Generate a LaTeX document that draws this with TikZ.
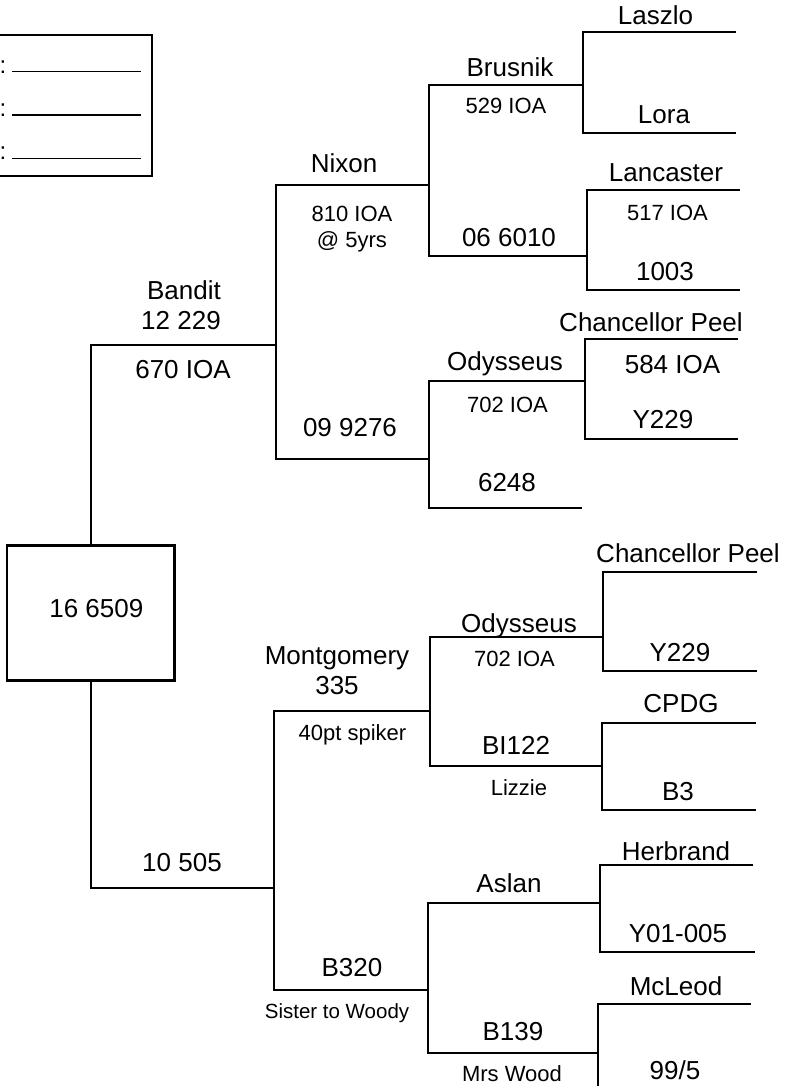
\documentclass[tikz,border=0pt]{standalone}
\usepackage{fontspec}
\setmainfont{Liberation Sans}
\begin{document}
\begin{tikzpicture}[x=1bp,y=-1bp,
  ln/.style={line width=1.8bp},
  big/.style={font=\fontsize{26bp}{30bp}\selectfont, anchor=base, inner sep=0},
  small/.style={font=\fontsize{22bp}{26bp}\selectfont, anchor=base, inner sep=0},
  tiny/.style={font=\fontsize{20.5bp}{24bp}\selectfont, anchor=base, inner sep=0},
  rootbox/.style={draw, line width=2.3bp, minimum width=167.5bp, minimum height=135bp, inner sep=0}]
\useasboundingbox (0,0) rectangle (787,1086);
% legend box (cut off at the left)
\draw[line width=2bp] (-10,35.3) rectangle (151.7,176);
\foreach \yy/\nm in {71.7/la,115/lb,158.5/lc}{
  \coordinate (\nm-a) at (12,\yy);
  \coordinate (\nm-b) at (140.7,\yy);
  \draw[line width=1.3bp] (\nm-a) -- (\nm-b);
}
\node[font=\fontsize{24bp}{28bp}\selectfont, anchor=base, inner sep=0] (c1) at (3,73) {:};
\node[font=\fontsize{24bp}{28bp}\selectfont, anchor=base, inner sep=0] (c2) at (3,116) {:};
\node[font=\fontsize{24bp}{28bp}\selectfont, anchor=base, inner sep=0] (c3) at (3,159) {:};
% root
\node[rootbox] (root) at (90.75,613) {};
\node[big] (roottext) at (96.3,617) {16 6509};
% connectors
\draw[ln] (root.north) |- (276,345);
\draw[ln] (429,185) -- (276,185) -- (276,459) -- (429,459);
\draw[ln] (583,85) -- (429,85) -- (429,256) -- (587,256);
\draw[ln] (736,32) -- (583,32) -- (583,133) -- (736,133);
\draw[ln] (740,190) -- (587,190) -- (587,290) -- (740,290);
\draw[ln] (585,381) -- (429,381) -- (429,508) -- (582,508);
\draw[ln] (738,339) -- (585,339) -- (585,439) -- (738,439);
\draw[ln] (root.south) |- (274,888);
\draw[ln] (430,711) -- (274,711) -- (274,990) -- (428,990);
\draw[ln] (603,637) -- (430,637) -- (430,766) -- (602,766);
\draw[ln] (757,572) -- (603,572) -- (603,671) -- (757,671);
\draw[ln] (756,723) -- (602,723) -- (602,810) -- (756,810);
\draw[ln] (600,903) -- (428,903) -- (428,1053) -- (598,1053);
\draw[ln] (753,865) -- (600,865) -- (600,952) -- (755,952);
\draw[ln] (751,1004) -- (598,1004) -- (598,1095);
% labels
\node[big] (bandit) at (184,299) {Bandit};
\node[big] (bandit2) at (181,329) {12 229};
\node[big] (bandit3) at (183,378) {670 IOA};
\node[big] (dam1) at (350,436) {09 9276};
\node[big] (nixon) at (344,172) {Nixon};
\node[small] (nixon2) at (352,221) {810 IOA};
\node[small] (nixon3) at (352,247) {@ 5yrs};
\node[big] (laszlo) at (655.5,24) {Laszlo};
\node[big] (brusnik) at (510,76.7) {Brusnik};
\node[small] (brusnik2) at (506,113) {529 IOA};
\node[big] (lora) at (664,123) {Lora};
\node[big] (lancaster) at (666,181.7) {Lancaster};
\node[small] (lancaster2) at (667.5,220.7) {517 IOA};
\node[big] (d6010) at (509,246) {06 6010};
\node[big] (d1003) at (665,280) {1003};
\node[big] (cp1) at (651,331) {Chancellor Peel};
\node[big] (cp1b) at (672.5,373) {584 IOA};
\node[big] (ody1) at (505,370.7) {Odysseus};
\node[small] (ody1b) at (507.5,412.7) {702 IOA};
\node[big] (y229a) at (663,428) {Y229};
\node[big] (d6248) at (507,491.7) {6248};
\node[big] (d10505) at (182,871) {10 505};
\node[big] (mont) at (337,664) {Montgomery};
\node[big] (mont2) at (337,694) {335};
\node[small] (mont3) at (352.5,740) {40pt spiker};
\node[big] (cp2) at (688,562.7) {Chancellor Peel};
\node[big] (ody2) at (519,632.7) {Odysseus};
\node[small] (ody2b) at (514.5,666.7) {702 IOA};
\node[big] (y229b) at (680,661.7) {Y229};
\node[big] (cpdg) at (681,712.7) {CPDG};
\node[big] (bi122) at (516,754.3) {BI122};
\node[small] (lizzie) at (519,795.7) {Lizzie};
\node[big] (b3) at (678,800) {B3};
\node[big] (herbrand) at (676,860) {Herbrand};
\node[big] (aslan) at (509,892) {Aslan};
\node[big] (y01) at (678,942) {Y01-005};
\node[big] (b320) at (352,976) {B320};
\node[tiny] (sister) at (337,1018) {Sister to Woody};
\node[big] (mcleod) at (676,995) {McLeod};
\node[big] (b139) at (513,1040) {B139};
\node[small] (mrswood) at (512,1081) {Mrs Wood};
\node[big] (d995) at (675,1079) {99/5};
\end{tikzpicture}
\end{document}
